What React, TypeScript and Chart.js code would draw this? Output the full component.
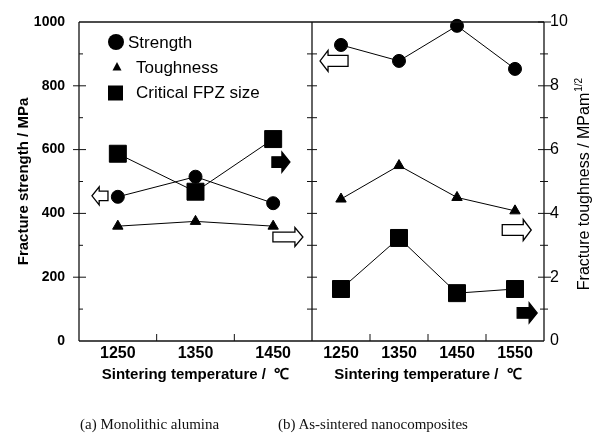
import React, { useEffect, useRef } from 'react';
import { Chart, registerables } from 'chart.js';

Chart.register(...registerables);

// ---------- data ----------
const tempsLeft = [1250, 1350, 1450];
const tempsRight = [1250, 1350, 1450, 1550];
const minorTempsLeft = [1300, 1400];
const minorTempsRight = [1300, 1400, 1500];

const strengthLeft = [452, 515, 432];
const toughnessLeft = [3.6, 3.75, 3.6];
const fpzLeft = [587, 468, 633];

const strengthRight = [928, 878, 988, 853];
const toughnessRight = [4.45, 5.5, 4.5, 4.08];
const fpzRight = [163, 323, 150, 163];

const strengthTicks = [0, 200, 400, 600, 800, 1000];
const strengthMinorTicks = [100, 300, 500, 700, 900];
const toughnessTicks = [0, 2, 4, 6, 8, 10];
const toughnessMinorTicks = [1, 3, 5, 7, 9];

const legendLabels = ['Strength', 'Toughness', 'Critical FPZ size'];

// arrow annotations (data coordinates)
const arrowTempsLeft = [1227, 1460, 1469];
const arrowValuesLeft = [455, 561, 3.26];
const arrowTempsRight = [1238, 1553, 1571];
const arrowValuesRight = [878, 3.48, 0.88];

// ---------- styles ----------
const SANS = "'Liberation Sans', Arial, Helvetica, sans-serif";
const INK = '#111';
const arrowStyleLeft = [
  { axis: 'y', dir: 'left', filled: false, w: 16, h: 18 },
  { axis: 'y', dir: 'right', filled: true, w: 18, h: 20 },
  { axis: 'y2', dir: 'right', filled: false, w: 30, h: 19 },
];
const arrowStyleRight = [
  { axis: 'y', dir: 'left', filled: false, w: 28, h: 21 },
  { axis: 'y2', dir: 'right', filled: false, w: 29, h: 21 },
  { axis: 'y2', dir: 'right', filled: true, w: 20, h: 20 },
];

function drawBlockArrow(ctx: CanvasRenderingContext2D, cx: number, cy: number, w: number, h: number, dir: string, filled: boolean) {
  const bodyH = h * 0.52;
  const headL = Math.min(8, w * 0.45);
  const s = dir === 'right' ? 1 : -1;
  const x0 = cx - (s * w) / 2;
  const x1 = cx + s * (w / 2 - headL);
  const x2 = cx + (s * w) / 2;
  ctx.beginPath();
  ctx.moveTo(x0, cy - bodyH / 2);
  ctx.lineTo(x1, cy - bodyH / 2);
  ctx.lineTo(x1, cy - h / 2);
  ctx.lineTo(x2, cy);
  ctx.lineTo(x1, cy + h / 2);
  ctx.lineTo(x1, cy + bodyH / 2);
  ctx.lineTo(x0, cy + bodyH / 2);
  ctx.closePath();
  ctx.fillStyle = filled ? '#000' : '#fff';
  ctx.fill();
  ctx.lineWidth = 1.3;
  ctx.strokeStyle = '#000';
  ctx.stroke();
}

function hLine(ctx: CanvasRenderingContext2D, x1: number, x2: number, y: number) {
  ctx.beginPath();
  ctx.moveTo(x1, y);
  ctx.lineTo(x2, y);
  ctx.stroke();
}
function vLine(ctx: CanvasRenderingContext2D, x: number, y1: number, y2: number) {
  ctx.beginPath();
  ctx.moveTo(x, y1);
  ctx.lineTo(x, y2);
  ctx.stroke();
}

function noPad(s: any) {
  s.paddingLeft = 0;
  s.paddingRight = 0;
  s.paddingTop = 0;
  s.paddingBottom = 0;
}

function makeDatasets(temps: number[], s: number[], t: number[], f: number[]) {
  const common = {
    borderColor: '#000',
    backgroundColor: '#000',
    pointBackgroundColor: '#000',
    pointBorderColor: '#000',
    pointBorderWidth: 1,
    borderWidth: 1,
    tension: 0,
    clip: false,
  };
  return [
    { ...common, label: legendLabels[0], data: temps.map((x, i) => ({ x, y: s[i] })), yAxisID: 'y', pointStyle: 'circle', pointRadius: 6.5 },
    { ...common, label: legendLabels[1], data: temps.map((x, i) => ({ x, y: t[i] })), yAxisID: 'y2', pointStyle: 'triangle', pointRadius: 6 },
    { ...common, label: legendLabels[2], data: temps.map((x, i) => ({ x, y: f[i] })), yAxisID: 'y', pointStyle: 'rect', pointRadius: 12 },
  ];
}

function xScale(min: number, max: number, ticks: number[]) {
  return {
    type: 'linear',
    min,
    max,
    afterBuildTicks: (s: any) => {
      s.ticks = ticks.map((value) => ({ value }));
    },
    grid: { display: false, drawTicks: false },
    border: { display: false },
    ticks: {
      color: '#000',
      font: { family: SANS, size: 16, weight: 'bold' },
      padding: 3,
      autoSkip: false,
      maxRotation: 0,
      callback: (v: any) => String(v),
    },
    title: {
      display: true,
      text: 'Sintering temperature /  ℃',
      color: '#000',
      font: { family: SANS, size: 15, weight: 'bold' },
      padding: { top: 0, bottom: 64 },
    },
    afterFit: (s: any) => {
      s.height = 107;
      noPad(s);
    },
  };
}

export default function App() {
  const leftRef = useRef<HTMLCanvasElement>(null);
  const rightRef = useRef<HTMLCanvasElement>(null);

  useEffect(() => {
    document.body.style.margin = '0';

    const leftDecor = {
      id: 'leftDecor',
      afterDatasetsDraw(chart: any) {
        const { ctx, scales } = chart;
        ctx.save();
        arrowTempsLeft.forEach((tx, i) => {
          const st = arrowStyleLeft[i];
          drawBlockArrow(ctx, scales.x.getPixelForValue(tx), scales[st.axis].getPixelForValue(arrowValuesLeft[i]), st.w, st.h, st.dir, st.filled);
        });
        ctx.restore();
      },
      afterDraw(chart: any) {
        const { ctx, chartArea, scales } = chart;
        const { left, right, top, bottom } = chartArea;
        ctx.save();
        ctx.strokeStyle = INK;
        ctx.lineWidth = 1.3;
        // frame
        vLine(ctx, left, top, bottom);
        vLine(ctx, right, top, bottom);
        hLine(ctx, left, right, top);
        hLine(ctx, left, right, bottom);
        ctx.lineWidth = 1;
        // left axis ticks
        strengthTicks.forEach((v) => {
          const y = scales.y.getPixelForValue(v);
          if (v > 0 && v < 1000) {
            hLine(ctx, left - 6, left + 7, y);
            hLine(ctx, right - 5, right, y);
          }
        });
        strengthMinorTicks.forEach((v) => {
          const y = scales.y.getPixelForValue(v);
          hLine(ctx, left, left + 4, y);
          hLine(ctx, right - 5, right, y);
        });
        minorTempsLeft.forEach((t) => {
          const x = scales.x.getPixelForValue(t);
          vLine(ctx, x, bottom, bottom - 7);
        });
        // legend
        const lx = left + 37;
        const ly = top + 20;
        ctx.fillStyle = '#000';
        ctx.beginPath();
        ctx.arc(lx, ly, 8, 0, Math.PI * 2);
        ctx.fill();
        ctx.beginPath();
        ctx.moveTo(lx + 1, ly + 25 - 5);
        ctx.lineTo(lx + 1 + 4.5, ly + 25 + 3.5);
        ctx.lineTo(lx + 1 - 4.5, ly + 25 + 3.5);
        ctx.closePath();
        ctx.fill();
        ctx.fillRect(lx - 8, ly + 51 - 7.5, 15, 15);
        ctx.font = `17px ${SANS}`;
        ctx.textBaseline = 'middle';
        ctx.textAlign = 'left';
        ctx.fillText(legendLabels[0], lx + 12, ly + 1);
        ctx.fillText(legendLabels[1], lx + 20, ly + 26);
        ctx.fillText(legendLabels[2], lx + 20, ly + 51);
        ctx.restore();
      },
    };

    const rightDecor = {
      id: 'rightDecor',
      afterDatasetsDraw(chart: any) {
        const { ctx, scales } = chart;
        ctx.save();
        arrowTempsRight.forEach((tx, i) => {
          const st = arrowStyleRight[i];
          drawBlockArrow(ctx, scales.x.getPixelForValue(tx), scales[st.axis].getPixelForValue(arrowValuesRight[i]), st.w, st.h, st.dir, st.filled);
        });
        ctx.restore();
      },
      afterDraw(chart: any) {
        const { ctx, chartArea, scales } = chart;
        const { left, right, top, bottom } = chartArea;
        ctx.save();
        ctx.strokeStyle = INK;
        ctx.lineWidth = 1.3;
        vLine(ctx, right, top, bottom);
        hLine(ctx, left, right, top);
        hLine(ctx, left, right, bottom);
        ctx.lineWidth = 1;
        [...strengthTicks, ...strengthMinorTicks].forEach((v) => {
          if (v <= 0 || v >= 1000) return;
          const y = scales.y.getPixelForValue(v);
          hLine(ctx, left, left + 5, y);
        });
        toughnessTicks.forEach((v) => {
          if (v <= 0) return;
          const y = scales.y2.getPixelForValue(v);
          hLine(ctx, right - 6, right + 7, y);
        });
        toughnessMinorTicks.forEach((v) => {
          const y = scales.y2.getPixelForValue(v);
          hLine(ctx, right - 4, right + 4, y);
        });
        minorTempsRight.forEach((t) => {
          const x = scales.x.getPixelForValue(t);
          vLine(ctx, x, bottom, bottom - 7);
        });
        // right axis title with superscript
        ctx.translate(right + 41, (top + bottom) / 2 + 3);
        ctx.rotate(-Math.PI / 2);
        ctx.fillStyle = '#000';
        ctx.textBaseline = 'middle';
        ctx.textAlign = 'left';
        const main = 'Fracture toughness / MPam';
        const sup = '1/2';
        ctx.font = `16px ${SANS}`;
        const w1 = ctx.measureText(main).width;
        ctx.font = `10px ${SANS}`;
        const w2 = ctx.measureText(sup).width;
        const start = -(w1 + w2) / 2;
        ctx.font = `16px ${SANS}`;
        ctx.fillText(main, start, 0);
        ctx.font = `10px ${SANS}`;
        ctx.fillText(sup, start + w1 + 1, -6);
        ctx.restore();
      },
    };

    const left = new Chart(leftRef.current as HTMLCanvasElement, {
      type: 'line',
      data: { datasets: makeDatasets(tempsLeft, strengthLeft, toughnessLeft, fpzLeft) as any },
      options: {
        animation: false,
        responsive: false,
        maintainAspectRatio: false,
        events: [],
        layout: { autoPadding: false, padding: { top: 22, right: 1, left: 0, bottom: 0 } },
        plugins: { legend: { display: false }, tooltip: { enabled: false } },
        scales: {
          x: xScale(1200, 1500, tempsLeft) as any,
          y: {
            type: 'linear',
            position: 'left',
            min: 0,
            max: 1000,
            afterBuildTicks: (s: any) => {
              s.ticks = strengthTicks.map((value) => ({ value }));
            },
            grid: { display: false, drawTicks: false },
            border: { display: false },
            ticks: {
              color: '#000',
              font: { family: SANS, size: 14, weight: 'bold' },
              padding: 14,
              callback: (v: any) => String(v),
            },
            title: {
              display: true,
              text: 'Fracture strength / MPa',
              color: '#000',
              font: { family: SANS, size: 15, weight: 'bold' },
              padding: { top: 15, bottom: 0 },
            },
            afterFit: (s: any) => {
              s.width = 79;
              noPad(s);
            },
          } as any,
          y2: { type: 'linear', display: false, min: 0, max: 10, position: 'right' } as any,
        },
      },
      plugins: [leftDecor],
    });

    const right = new Chart(rightRef.current as HTMLCanvasElement, {
      type: 'line',
      data: { datasets: makeDatasets(tempsRight, strengthRight, toughnessRight, fpzRight) as any },
      options: {
        animation: false,
        responsive: false,
        maintainAspectRatio: false,
        events: [],
        layout: { autoPadding: false, padding: { top: 22, right: 0, left: 0, bottom: 0 } },
        plugins: { legend: { display: false }, tooltip: { enabled: false } },
        scales: {
          x: xScale(1200, 1600, tempsRight) as any,
          y: { type: 'linear', display: false, min: 0, max: 1000, position: 'left' } as any,
          y2: {
            type: 'linear',
            position: 'right',
            min: 0,
            max: 10,
            afterBuildTicks: (s: any) => {
              s.ticks = toughnessTicks.map((value) => ({ value }));
            },
            grid: { display: false, drawTicks: false },
            border: { display: false },
            ticks: {
              color: '#000',
              font: { family: SANS, size: 16 },
              padding: 6,
              callback: (v: any) => String(v),
            },
            afterFit: (s: any) => {
              s.width = 51;
              noPad(s);
            },
          } as any,
        },
      },
      plugins: [rightDecor],
    });

    return () => {
      left.destroy();
      right.destroy();
    };
  }, []);

  const caption: React.CSSProperties = {
    position: 'absolute',
    top: 415,
    font: "15px 'Liberation Serif', 'Times New Roman', serif",
    lineHeight: '18px',
    whiteSpace: 'nowrap',
    color: '#111',
  };

  return (
    <div style={{ position: 'relative', width: 595, height: 448, background: '#fff', overflow: 'hidden' }}>
      <canvas ref={leftRef} width={313} height={448} style={{ position: 'absolute', left: 0, top: 0, width: 313, height: 448 }} />
      <canvas ref={rightRef} width={283} height={448} style={{ position: 'absolute', left: 312, top: 0, width: 283, height: 448 }} />
      <div style={{ ...caption, left: 80 }}>(a) Monolithic alumina</div>
      <div style={{ ...caption, left: 278 }}>(b) As-sintered nanocomposites</div>
    </div>
  );
}
